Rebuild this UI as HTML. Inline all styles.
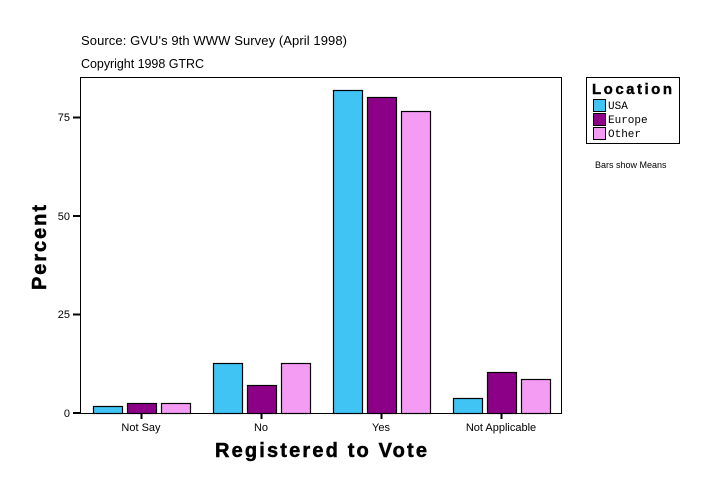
<!DOCTYPE html><html><head><style>body{margin:0;background:#fff}</style></head><body>
<svg width="724" height="496" xmlns="http://www.w3.org/2000/svg" font-family="Liberation Sans, sans-serif">
<rect width="724" height="496" fill="#fff"/>
<text x="81" y="45" font-size="13" textLength="266">Source: GVU's 9th WWW Survey (April 1998)</text>
<text x="81" y="68" font-size="12.5" textLength="123">Copyright 1998 GTRC</text>
<rect x="80.5" y="77.5" width="481" height="336" fill="none" stroke="#000"/>
<g stroke="#000" stroke-width="1" font-size="11">
<line x1="73" y1="413" x2="80" y2="413" stroke-width="2"/><line x1="73" y1="314.5" x2="80" y2="314.5" stroke-width="2"/><line x1="73" y1="216" x2="80" y2="216" stroke-width="2"/><line x1="73" y1="117.5" x2="80" y2="117.5" stroke-width="2"/>
<line x1="141.5" y1="413" x2="141.5" y2="419" stroke-width="2"/><line x1="261.5" y1="413" x2="261.5" y2="419" stroke-width="2"/><line x1="381.5" y1="413" x2="381.5" y2="419" stroke-width="2"/><line x1="501.5" y1="413" x2="501.5" y2="419" stroke-width="2"/>
</g>
<g font-size="11" text-anchor="end"><text x="70" y="417">0</text><text x="70" y="318">25</text><text x="70" y="220">50</text><text x="70" y="121">75</text></g>
<g font-size="11" text-anchor="middle"><text x="141" y="431">Not Say</text><text x="261" y="431">No</text><text x="381" y="431">Yes</text><text x="501" y="431">Not Applicable</text></g>
<g stroke="#000" stroke-width="1.2">
<rect x="93.5" y="406.5" width="29" height="7" fill="#40c4f4"/><rect x="127.5" y="403.5" width="29" height="10" fill="#8c0088"/><rect x="161.5" y="403.5" width="29" height="10" fill="#f49cf4"/>
<rect x="213.5" y="363.5" width="29" height="50" fill="#40c4f4"/><rect x="247.5" y="385.5" width="29" height="28" fill="#8c0088"/><rect x="281.5" y="363.5" width="29" height="50" fill="#f49cf4"/>
<rect x="333.5" y="90.5" width="29" height="323" fill="#40c4f4"/><rect x="367.5" y="97.5" width="29" height="316" fill="#8c0088"/><rect x="401.5" y="111.5" width="29" height="302" fill="#f49cf4"/>
<rect x="453.5" y="398.5" width="29" height="15" fill="#40c4f4"/><rect x="487.5" y="372.5" width="29" height="41" fill="#8c0088"/><rect x="521.5" y="379.5" width="29" height="34" fill="#f49cf4"/>
</g>
<text x="215" y="457" font-size="20" font-weight="bold" textLength="212" stroke="#000" stroke-width="0.5">Registered to Vote</text>
<text transform="translate(46,290) rotate(-90)" font-size="20" font-weight="bold" textLength="85" stroke="#000" stroke-width="0.5">Percent</text>
<rect x="586.5" y="77.5" width="93" height="66" fill="#fff" stroke="#000"/>
<text x="592" y="94" font-size="15" font-weight="bold" textLength="80" stroke="#000" stroke-width="0.4">Location</text>
<g stroke="#000"><rect x="593.5" y="99.5" width="12" height="12" fill="#40c4f4"/><rect x="593.5" y="113.5" width="12" height="12" fill="#8c0088"/><rect x="593.5" y="127.5" width="12" height="12" fill="#f49cf4"/></g>
<g font-family="Liberation Mono, monospace" font-size="11"><text x="608" y="109">USA</text><text x="608" y="123">Europe</text><text x="608" y="137">Other</text></g>
<text x="595" y="168" font-size="9">Bars show Means</text>
</svg></body></html>
